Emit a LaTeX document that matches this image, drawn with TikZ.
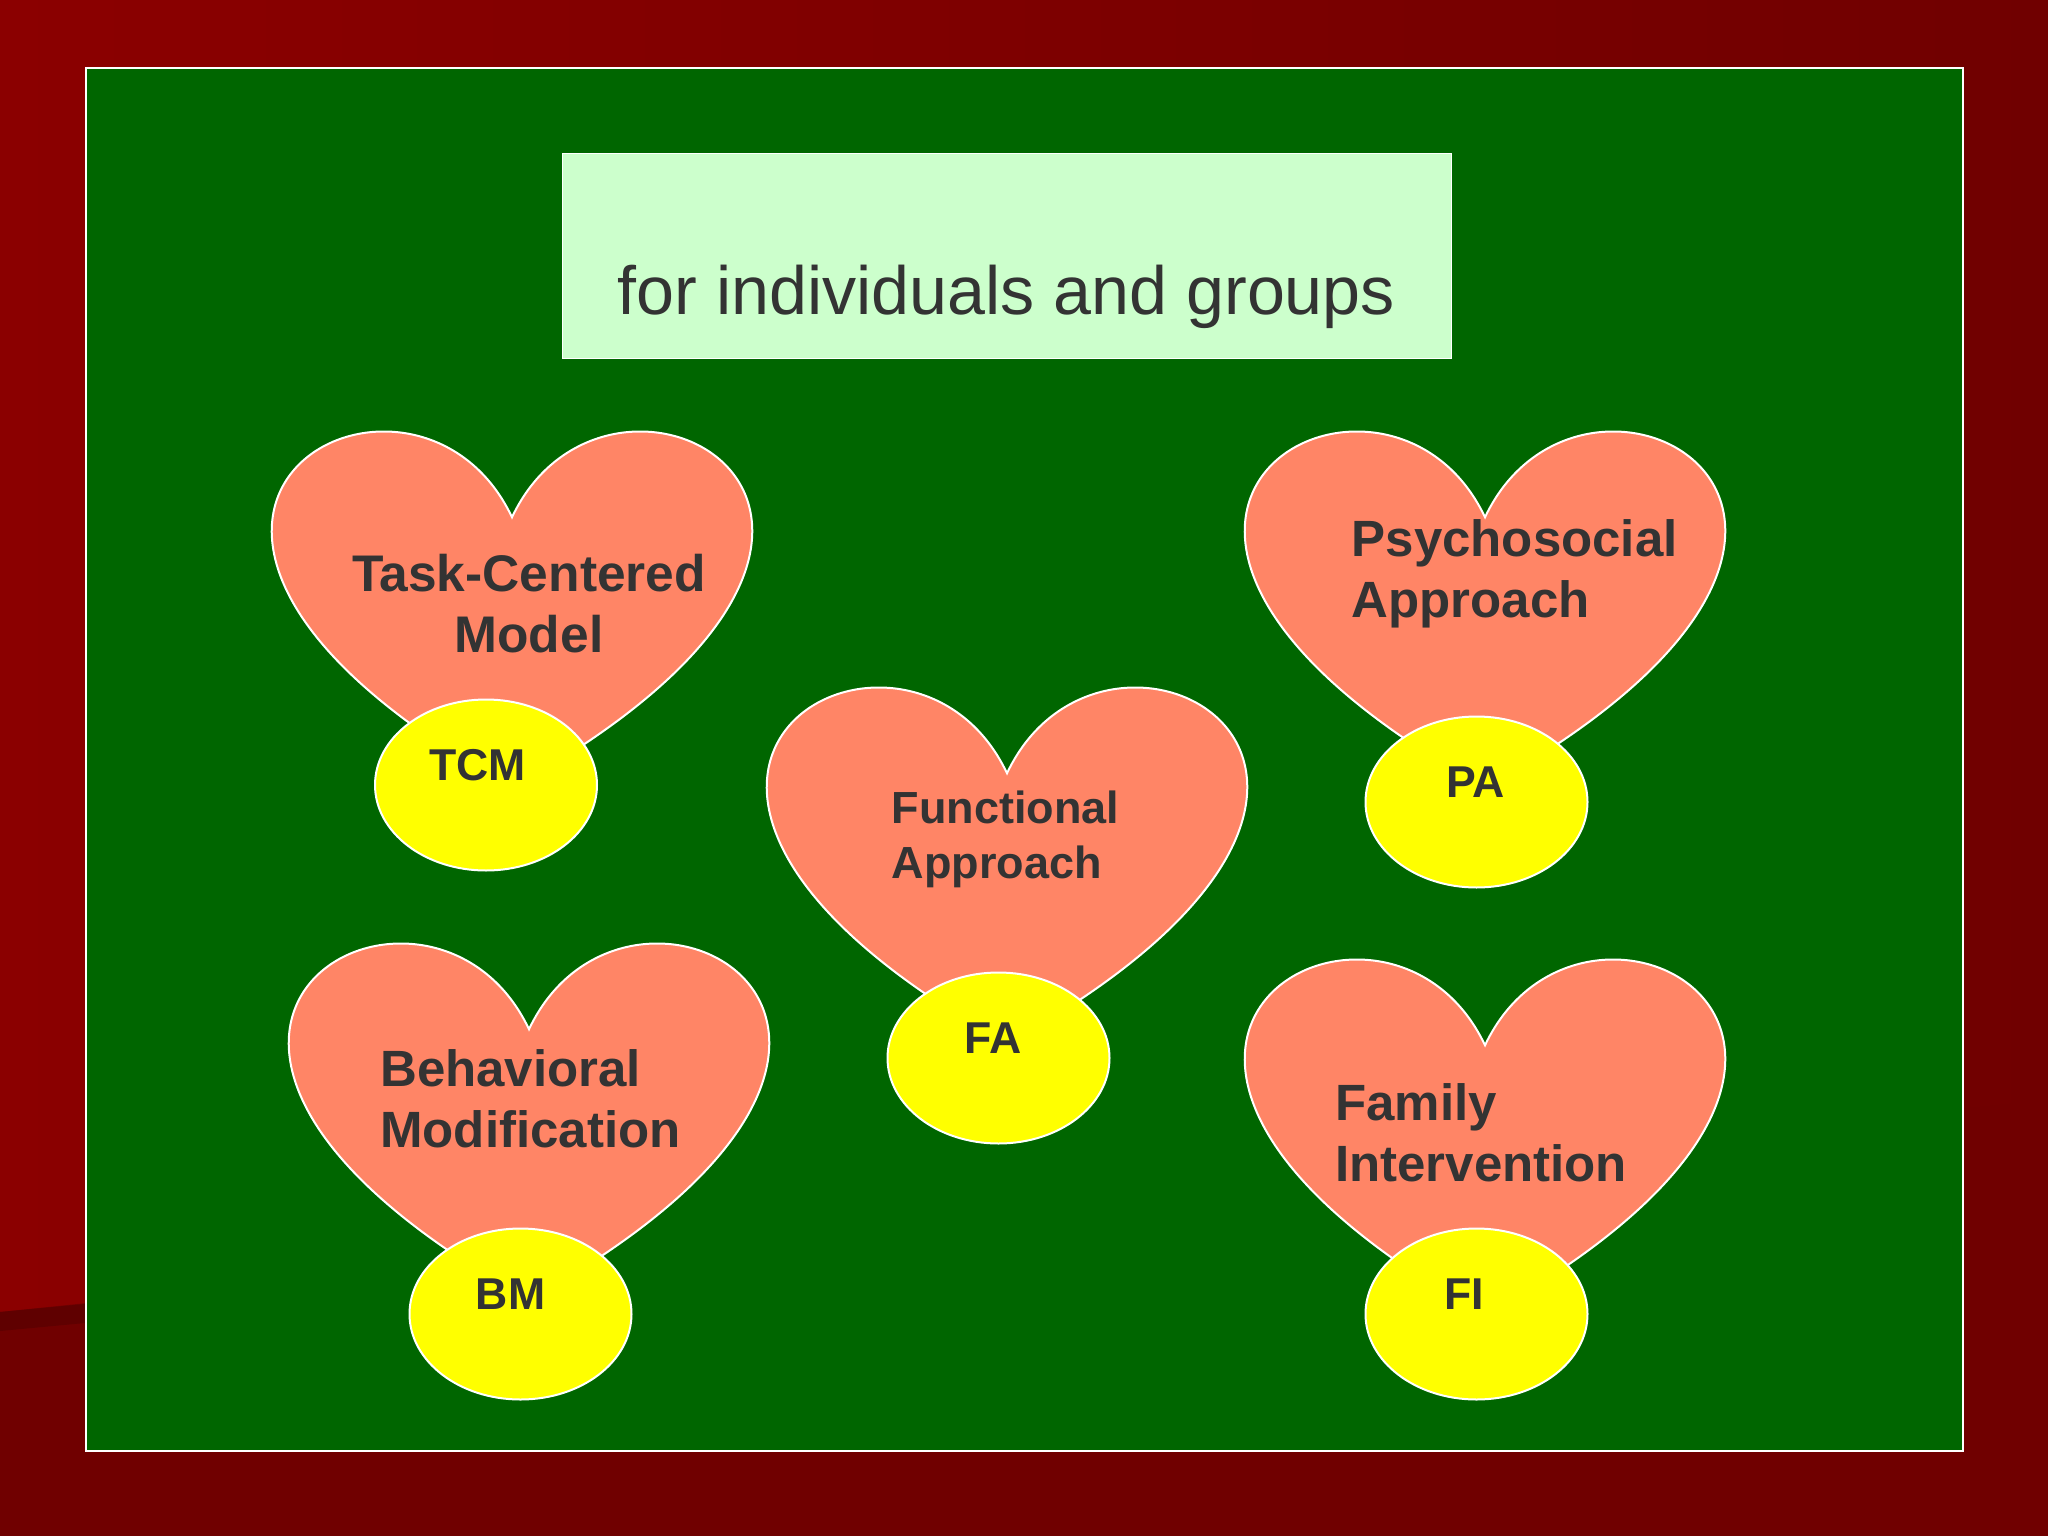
\documentclass[tikz,border=0pt]{standalone}
\usepackage{fontspec}
\setmainfont{Liberation Sans}
\definecolor{panelgreen}{HTML}{006600}
\definecolor{redlight}{HTML}{8B0000}
\definecolor{reddark}{HTML}{700000}
\definecolor{redshade}{HTML}{5F0000}
\definecolor{salmonfill}{HTML}{FF8566}
\definecolor{textgrey}{HTML}{333333}
\definecolor{titlefill}{HTML}{CCFFCC}
\definecolor{pureyellow}{HTML}{FFFF00}
\newcommand{\heartshape}[2]{% notch x, top of frame y
  \draw[heartstyle] (#1,#2+90.25) .. controls (#1+99.4,#2-120.3) and (#1+487,#2+90.25) .. (#1,#2+361)
    .. controls (#1-487,#2+90.25) and (#1-99.4,#2-120.3) .. (#1,#2+90.25) -- cycle;}
\tikzset{
  heartstyle/.style={draw=white,line width=2pt,fill=salmonfill,line join=miter},
  abbrev/.style={draw=white,line width=2pt,fill=pureyellow,ellipse,minimum width=222pt,minimum height=171pt,inner sep=0pt},
  largername/.style={inner sep=0pt,text=textgrey,font=\fontsize{51.5}{61}\bfseries\selectfont},
  bigname/.style={inner sep=0pt,text=textgrey,font=\fontsize{51}{61}\bfseries\selectfont},
  midname/.style={inner sep=0pt,text=textgrey,font=\fontsize{45}{55}\bfseries\selectfont},
  shorttext/.style={inner sep=0pt,text=textgrey,anchor=base,font=\fontsize{44.6}{55}\bfseries\selectfont},
}
\usetikzlibrary{shapes.geometric}
\begin{document}
\begin{tikzpicture}[x=1pt,y=-1pt]
\useasboundingbox (0,0) rectangle (2048,1536);
\fill[left color=redlight,right color=reddark] (0,0) rectangle (2048,1312);
\fill[reddark] (0,1312) -- (2048,1100) -- (2048,1536) -- (0,1536) -- cycle;
\fill[redshade] (0,1312) -- (85,1304) -- (85,1323) -- (0,1331) -- cycle;
\node[draw=white,line width=2pt,fill=panelgreen,anchor=north west,minimum width=1877pt,minimum height=1382pt,inner sep=0pt] (panel) at (84.5,67.5) {};
\node[fill=titlefill,draw=white,line width=0.6pt,anchor=north west,minimum width=889pt,minimum height=205pt,inner sep=0pt] (titlebox) at (562,153) {};
\node[anchor=base,inner sep=0pt,text=textgrey,font=\fontsize{68.2}{70}\selectfont] (title) at (1006.5,314.5) {for individuals and groups};
\heartshape{512}{427}
\heartshape{1485}{427}
\heartshape{1007}{683}
\heartshape{529}{939}
\heartshape{1485}{955}
\node[abbrev] (tcm) at (486,785) {};
\node[abbrev] (pa) at (1476.5,802) {};
\node[abbrev] (fa) at (998.5,1058) {};
\node[abbrev] (bm) at (520.5,1314) {};
\node[abbrev] (fi) at (1476.5,1314) {};
\node[shorttext] (tcmt) at (477.5,780) {TCM};
\node[shorttext] (pat) at (1475.5,797) {PA};
\node[shorttext] (fat) at (993,1053) {FA};
\node[shorttext] (bmt) at (510.5,1309) {BM};
\node[shorttext] (fit) at (1464,1309) {FI};
\node[largername,align=center] (n1) at (529,603.5) {Task-Centered\\Model};
\node[bigname,align=left,anchor=west] (n2) at (1351.5,574) {Psychosocial\\Approach};
\node[midname,align=left,anchor=west] (n3) at (891.5,839.5) {Functional\\Approach};
\node[bigname,align=left,anchor=west] (n4) at (380,1099) {Behavioral\\Modification};
\node[bigname,align=left,anchor=west] (n5) at (1335,1132.5) {Family\\Intervention};
\end{tikzpicture}
\end{document}
